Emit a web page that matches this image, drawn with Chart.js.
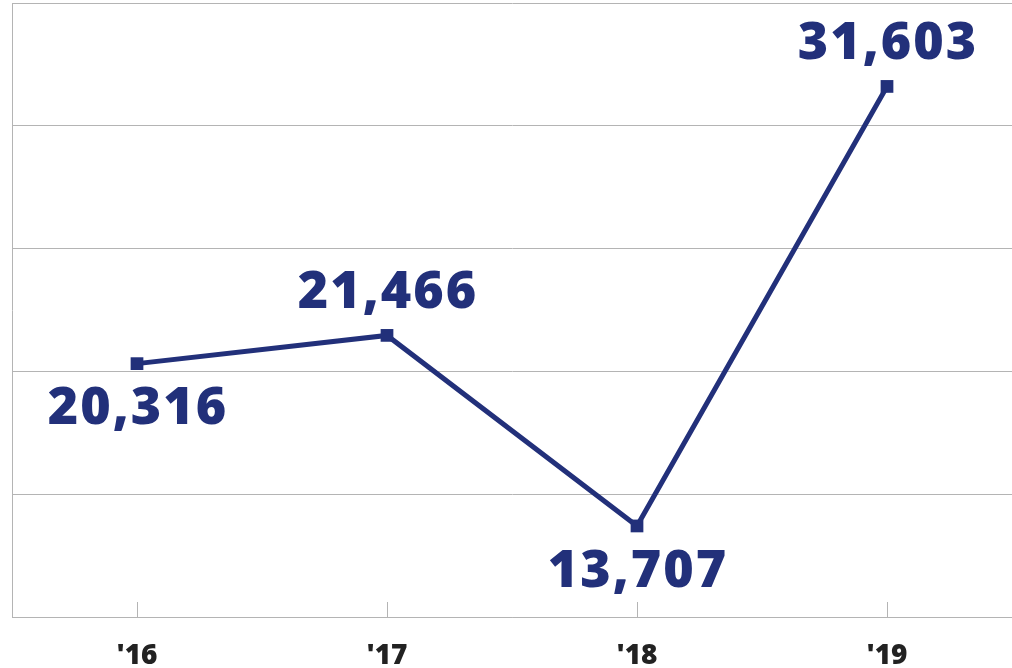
<!DOCTYPE html>
<html>
<head>
<meta charset="utf-8">
<script src="https://cdn.jsdelivr.net/npm/chart.js@4"></script>
<style>
  html, body { margin: 0; padding: 0; background: #fff; }
  #wrap { width: 1012px; height: 668px; }
</style>
</head>
<body>
<div id="wrap"><canvas id="myChart"></canvas></div>
<script>
'use strict';
// data
var years = ["'16", "'17", "'18", "'19"];
var counts = [20316, 21466, 13707, 31603];
var yMin = 10000;
var yMax = 35000;
var yStep = 5000;

var navy = '#22307a';
var gridGrey = '#b4b4b4';

// which side of the point each value label sits on
var labelSide = ['below', 'above', 'below', 'above'];

// small tick marks inside the plot at each category
var innerTicks = {
  id: 'innerTicks',
  afterDraw: function(chart) {
    var ctx = chart.ctx;
    var x = chart.scales.x;
    var bottom = chart.chartArea.bottom;
    ctx.save();
    ctx.strokeStyle = gridGrey;
    ctx.lineWidth = 1;
    for (var i = 0; i < years.length; i++) {
      var px = Math.round(x.getPixelForValue(i)) + 0.5;
      ctx.beginPath();
      ctx.moveTo(px, bottom - 15);
      ctx.lineTo(px, bottom);
      ctx.stroke();
    }
    ctx.restore();
  }
};

// big value labels next to each point
var valueLabels = {
  id: 'valueLabels',
  afterDatasetsDraw: function(chart) {
    var ctx = chart.ctx;
    var meta = chart.getDatasetMeta(0);
    ctx.save();
    ctx.font = '800 52px "Open Sans"';
    ctx.letterSpacing = '2px';
    ctx.fillStyle = navy;
    ctx.textAlign = 'center';
    ctx.textBaseline = 'middle';
    for (var i = 0; i < meta.data.length; i++) {
      var pt = meta.data[i];
      var dy = labelSide[i] === 'above' ? -42 : 46;
      ctx.fillText(counts[i].toLocaleString('en-US'), pt.x + 1, pt.y + dy);
    }
    ctx.restore();
  }
};

var ctx = document.getElementById('myChart').getContext('2d');
new Chart(ctx, {
  type: 'line',
  data: {
    labels: years,
    datasets: [
      {
        data: counts,
        borderColor: navy,
        backgroundColor: navy,
        borderWidth: 5,
        pointStyle: 'rect',
        pointRadius: 9,
        pointBorderWidth: 0,
        pointBackgroundColor: navy,
        tension: 0,
        clip: false
      }
    ]
  },
  options: {
    responsive: true,
    maintainAspectRatio: false,
    animation: false,
    layout: { autoPadding: false, padding: { left: 12, top: 3, right: 0, bottom: 0 } },
    plugins: {
      legend: { display: false },
      tooltip: { enabled: false }
    },
    scales: {
      x: {
        offset: true,
        grid: { display: false, drawTicks: false, tickLength: 0 },
        border: { display: true, color: gridGrey, width: 1 },
        ticks: {
          padding: 22,
          color: '#222',
          font: { family: 'Open Sans', weight: '800', size: 28 }
        },
        afterFit: function(scale) {
          scale.height = 51;
        }
      },
      y: {
        min: yMin,
        max: yMax,
        ticks: { display: false, stepSize: yStep },
        grid: { color: gridGrey, lineWidth: 1, drawTicks: false },
        border: { display: true, color: gridGrey, width: 1 }
      }
    }
  },
  plugins: [innerTicks, valueLabels]
});
</script>
</body>
</html>
